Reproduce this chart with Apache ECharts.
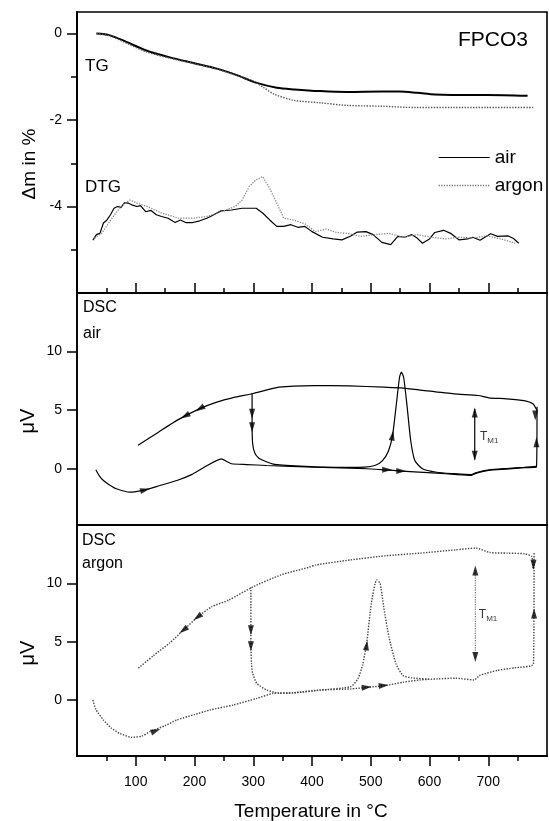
<!DOCTYPE html>
<html><head><meta charset="utf-8">
<script src="https://cdn.jsdelivr.net/npm/echarts@6/dist/echarts.min.js"></script>
<style>html,body{margin:0;padding:0;background:#fff}#c{width:549px;height:821px}</style>
</head><body><div id="c"></div>
<script>
// ---- tick values ----
const xMajor = [100, 200, 300, 400, 500, 600, 700];
const xMinor = [50, 150, 250, 350, 450, 550, 650, 750];
const yTgMajor = [-4, -2, 0];
const yTgMinor = [-5, -3, -1];
const yDscMajor = [0, 5, 10];

// ---- TG / DTG (Δm in %) ----
const tgAir = [[33,0],[56,-0.04],[84,-0.19],[118,-0.39],[158,-0.55],[198,-0.68],[238,-0.81],[272,-0.96],[306,-1.14],[340,-1.25],[370,-1.29],[414,-1.33],[460,-1.35],[519,-1.34],[549,-1.34],[579,-1.37],[609,-1.41],[638,-1.42],[698,-1.42],[767,-1.44]];
const tgArgon = [[33,0],[56,-0.05],[84,-0.22],[118,-0.42],[158,-0.57],[198,-0.69],[238,-0.82],[272,-0.97],[300,-1.1],[318,-1.25],[334,-1.39],[368,-1.54],[414,-1.6],[460,-1.66],[519,-1.68],[579,-1.71],[638,-1.71],[698,-1.71],[779,-1.71]];
const dtgAir = [[27,-4.78],[33,-4.65],[39,-4.62],[45,-4.38],[51,-4.31],[57,-4.19],[63,-4.04],[69,-4.0],[75,-4.02],[81,-3.91],[87,-3.92],[93,-3.96],[102,-4.0],[108,-3.98],[117,-4.12],[126,-4.09],[135,-4.19],[144,-4.23],[155,-4.27],[167,-4.37],[176,-4.31],[185,-4.37],[197,-4.37],[209,-4.33],[221,-4.27],[233,-4.19],[245,-4.10],[263,-4.08],[281,-4.04],[305,-4.04],[316,-4.15],[328,-4.31],[340,-4.46],[352,-4.46],[364,-4.42],[376,-4.48],[388,-4.46],[400,-4.58],[418,-4.71],[436,-4.75],[451,-4.77],[466,-4.68],[477,-4.59],[492,-4.58],[504,-4.65],[519,-4.83],[534,-4.88],[546,-4.69],[558,-4.71],[570,-4.65],[579,-4.73],[588,-4.85],[600,-4.75],[609,-4.6],[624,-4.55],[636,-4.62],[650,-4.77],[665,-4.75],[674,-4.71],[686,-4.78],[704,-4.63],[716,-4.69],[734,-4.68],[743,-4.74],[752,-4.85]];
const dtgArgon = [[30,-4.73],[42,-4.62],[54,-4.38],[66,-4.15],[78,-3.96],[90,-3.85],[102,-3.92],[120,-4.0],[144,-4.15],[173,-4.27],[197,-4.27],[221,-4.23],[245,-4.12],[269,-4.0],[281,-3.85],[293,-3.54],[305,-3.38],[316,-3.31],[328,-3.58],[340,-3.92],[352,-4.27],[370,-4.32],[388,-4.40],[406,-4.58],[424,-4.52],[442,-4.6],[460,-4.62],[483,-4.69],[507,-4.65],[531,-4.62],[555,-4.71],[579,-4.65],[603,-4.71],[627,-4.75],[650,-4.71],[674,-4.73],[698,-4.68],[722,-4.75],[746,-4.85]];

// ---- DSC air (μV) ----
const dscAirHeat1 = [[32,-0.08],[38,-0.6],[45,-1.0],[56,-1.4],[67,-1.71],[90,-2.0],[116,-1.8],[140,-1.45],[170,-1.0],[195,-0.5],[215,0.09],[246,0.85],[255,0.62],[263,0.43],[289,0.36],[323,0.28],[404,0.14],[463,0.06],[493,0],[523,-0.09],[552,-0.2],[582,-0.28],[612,-0.37],[642,-0.48],[671,-0.57],[680,-0.37],[701,-0.14],[731,-0.03],[761,0.09],[782,0.14],[783,5.3]];
const dscAirHeat2 = [[298,6.42],[298,4.0],[299,2.14],[303,1.3],[311,0.85],[334,0.4],[380,0.22],[440,0.12],[490,0.14],[508,0.3],[520,0.7],[530,1.5],[537,2.8],[543,5.26],[549,7.81],[552,8.24],[556,7.81],[562,5.26],[568,2.41],[575,0.7],[588,0.0],[612,-0.3],[642,-0.42],[671,-0.5],[680,-0.32],[701,-0.1],[731,0.02],[761,0.12],[782,0.2]];
const dscAirCool = [[783,4.97],[776,5.54],[761,5.82],[731,5.97],[701,6.05],[683,6.25],[642,6.39],[582,6.73],[552,6.9],[523,6.96],[463,7.07],[404,7.1],[344,6.96],[300,6.42],[266,6.07],[238,5.69],[209,5.13],[170,4.13],[138,3.1],[104,2.0]];
const dscAirTm1 = [[677,0.8],[677,5.1]];
// arrows: [T, value, rotation in degrees]
const dscAirArrows = [[116,-1.8,-76],[209,5.13,120],[184,4.5,120],[298,4.69,180],[298,3.55,180],[537,2.84,-9],[528,-0.09,-90],[552,-0.2,-90],[780,4.55,180],[782,2.27,0],[677,4.8,0],[677,1.1,180]];

// ---- DSC argon (μV) ----
const dscArHeat1 = [[27,0],[32,-0.8],[45,-1.71],[58,-2.4],[73,-2.86],[93,-3.2],[110,-3.1],[124,-2.71],[150,-2.2],[170,-1.71],[200,-1.25],[226,-0.86],[266,-0.43],[306,0.14],[334,0.57],[368,0.63],[414,0.86],[466,0.95],[496,1.09],[525,1.24],[555,1.52],[584,1.72],[614,1.81],[644,1.87],[676,1.72],[685,2.1],[715,2.53],[745,2.76],[777,3.1],[778,12.6]];
const dscArHeat2 = [[296,9.66],[296,5.0],[297,3.1],[299,2.29],[306,1.43],[323,0.86],[345,0.57],[368,0.6],[414,0.84],[466,1.15],[478,1.8],[486,3.0],[493,4.83],[501,8.28],[510,10.29],[516,10.0],[522,7.99],[531,5.4],[543,3.1],[555,2.1],[570,1.9],[600,1.78]];
const dscArCool = [[776,11.3],[774,12.3],[762,12.53],[733,12.59],[703,12.64],[679,13.02],[644,12.87],[584,12.59],[525,12.36],[466,12.01],[407,11.58],[395,11.38],[347,10.72],[300,9.71],[258,8.56],[229,7.99],[205,7.1],[181,5.98],[158,4.9],[130,3.8],[104,2.71]];
const dscArTm1 = [[678,3.6],[678,11.2]];
const dscArArrows = [[134,-2.64,-69],[205,7.1,127],[181,5.98,127],[296,5.98,180],[296,4.6,180],[493,4.68,-8],[493,1.09,-85],[522,1.24,-85],[778,7.41,0],[777,11.6,180],[678,11.09,0],[678,3.68,180]];

const FONT = 'Liberation Sans, Arial, Helvetica, sans-serif';
const chart = echarts.init(document.getElementById('c'), null, {renderer: 'canvas'});

const grids = [
  {left: 77, right: 2, top: 12, height: 281},
  {left: 77, right: 2, top: 293, height: 232},
  {left: 77, right: 2, top: 525, height: 231}
].map(g => Object.assign(g, {show: true, borderColor: '#000', borderWidth: 1.6, backgroundColor: 'transparent'}));

const axLine = {show: true, onZero: false, lineStyle: {color: '#000', width: 1.6}};
function xAx(grid, opts) {
  return Object.assign({type: 'value', gridIndex: grid, min: 0, max: 800, position: 'bottom',
    splitLine: {show: false}, axisLine: axLine, axisLabel: {show: false}, axisTick: {show: false}}, opts);
}
const xAxes = [
  xAx(0, {axisTick: {show: true, inside: true, length: 10, customValues: xMajor, lineStyle: {color: '#000', width: 1.5}}}),
  xAx(0, {axisTick: {show: true, inside: true, length: 5, customValues: xMinor, lineStyle: {color: '#000', width: 1.5}}}),
  xAx(1, {}),
  xAx(2, {axisTick: {show: true, inside: false, length: 10, customValues: xMajor, lineStyle: {color: '#000', width: 1.5}},
    axisLabel: {show: true, customValues: xMajor, margin: 19, fontSize: 14, color: '#000', fontFamily: FONT}}),
  xAx(2, {axisTick: {show: true, inside: false, length: 5, customValues: xMinor, lineStyle: {color: '#000', width: 1.5}}})
];
function yAx(grid, min, max, opts) {
  return Object.assign({type: 'value', gridIndex: grid, min: min, max: max, position: 'left',
    splitLine: {show: false}, axisLine: axLine, axisLabel: {show: false}, axisTick: {show: false}}, opts);
}
const yLab = {show: true, margin: 15, fontSize: 14, color: '#000', fontFamily: FONT};
const yAxes = [
  yAx(0, -6, 0.5, {axisTick: {show: true, length: 10, customValues: yTgMajor, lineStyle: {color: '#000', width: 1.5}},
    axisLabel: Object.assign({customValues: yTgMajor}, yLab)}),
  yAx(0, -6, 0.5, {axisTick: {show: true, length: 6, customValues: yTgMinor, lineStyle: {color: '#000', width: 1.5}}}),
  yAx(1, -4.8, 15, {axisTick: {show: true, length: 10, customValues: yDscMajor, lineStyle: {color: '#000', width: 1.5}},
    axisLabel: Object.assign({customValues: yDscMajor}, yLab)}),
  yAx(2, -4.8, 15, {axisTick: {show: true, length: 10, customValues: yDscMajor, lineStyle: {color: '#000', width: 1.5}},
    axisLabel: Object.assign({customValues: yDscMajor}, yLab)})
];

const AIR = {color: '#000', width: 1.2, type: 'solid'};
const ARGON = {color: '#444', width: 1.4, type: 'dotted'};
function line(name, data, xi, yi, style, smooth) {
  return {type: 'line', name: name, data: data, xAxisIndex: xi, yAxisIndex: yi, symbol: 'none',
    itemStyle: {color: style.color, opacity: 0},
    lineStyle: style, smooth: smooth, animation: false, silent: true, z: 3};
}
function arrows(data, xi, yi) {
  return {type: 'scatter', xAxisIndex: xi, yAxisIndex: yi, symbol: 'triangle', symbolSize: [6, 10],
    itemStyle: {color: '#000'}, animation: false, silent: true, z: 4,
    data: data.map(a => ({value: [a[0], a[1]], symbolRotate: a[2]}))};
}
function tmLabel(pos, xi, yi) {
  return {type: 'scatter', xAxisIndex: xi, yAxisIndex: yi, symbolSize: 0, animation: false, silent: true,
    data: [pos], label: {show: true, position: 'right', distance: 0,
      formatter: '{a|T}{b|M1}', rich: {a: {fontSize: 12, fontFamily: FONT, color: '#000', lineHeight: 16, verticalAlign: 'middle'},
        b: {fontSize: 8, fontFamily: FONT, color: '#000', lineHeight: 16, verticalAlign: 'bottom', padding: [6, 0, 0, 0]}}}};
}

const series = [
  line('air', tgAir, 0, 0, {color: '#000', width: 2, type: 'solid'}, 0.3),
  line('argon', tgArgon, 0, 0, {color: '#555', width: 1.4, type: 'dotted'}, 0.3),
  line('air', dtgAir, 0, 0, AIR, false),
  line('argon', dtgArgon, 0, 0, {color: '#888', width: 1.3, type: 'dotted'}, false),
  line('air', dscAirHeat1, 2, 2, AIR, 0.2),
  line('air', dscAirHeat2, 2, 2, AIR, 0.2),
  line('air', dscAirCool, 2, 2, AIR, 0.2),
  line('air', dscAirTm1, 2, 2, AIR, false),
  arrows(dscAirArrows, 2, 2),
  tmLabel([686, 2.7], 2, 2),
  line('argon', dscArHeat1, 3, 3, ARGON, 0.2),
  line('argon', dscArHeat2, 3, 3, ARGON, 0.2),
  line('argon', dscArCool, 3, 3, ARGON, 0.2),
  line('argon', dscArTm1, 3, 3, {color: '#777', width: 1.2, type: 'dotted'}, false),
  arrows(dscArArrows, 3, 3),
  tmLabel([684, 7.3], 3, 3)
];

function txt(x, y, text, size, extra) {
  return Object.assign({type: 'text', x: x, y: y, silent: true,
    style: {text: text, fill: '#000', font: size + 'px ' + FONT, textVerticalAlign: 'middle', textAlign: 'left'}}, extra || {});
}
const graphics = [
  txt(458, 40, 'FPCO3', 21),
  txt(85, 66, 'TG', 17),
  txt(85, 187, 'DTG', 17),
  txt(83, 308, 'DSC', 16),
  txt(83, 334, 'air', 16),
  txt(82, 541, 'DSC', 16),
  txt(82, 564, 'argon', 16),
  {type: 'text', x: 30, y: 164, rotation: Math.PI / 2, silent: true,
    style: {text: 'Δm in %', fill: '#000', font: '19px ' + FONT, textAlign: 'center', textVerticalAlign: 'middle'}},
  {type: 'text', x: 28, y: 421, rotation: Math.PI / 2, silent: true,
    style: {text: 'μV', fill: '#000', font: '20px ' + FONT, textAlign: 'center', textVerticalAlign: 'middle'}},
  {type: 'text', x: 28, y: 653, rotation: Math.PI / 2, silent: true,
    style: {text: 'μV', fill: '#000', font: '20px ' + FONT, textAlign: 'center', textVerticalAlign: 'middle'}},
  {type: 'text', x: 311, y: 812, silent: true,
    style: {text: 'Temperature in °C', fill: '#000', font: '19px ' + FONT, textAlign: 'center', textVerticalAlign: 'middle'}}
];

chart.setOption({
  animation: false,
  backgroundColor: '#fff',
  grid: grids,
  xAxis: xAxes,
  yAxis: yAxes,
  legend: {
    orient: 'vertical', left: 433, top: 143, itemWidth: 51, itemHeight: 12, itemGap: 9,
    selectedMode: false,
    textStyle: {fontSize: 19, lineHeight: 18, color: '#000', fontFamily: FONT},
    data: [
      {name: 'air', itemStyle: {opacity: 0}, lineStyle: {color: '#000', width: 1.2, type: 'solid'}},
      {name: 'argon', itemStyle: {opacity: 0}, lineStyle: {color: '#777', width: 1.3, type: 'dotted'}}
    ]
  },
  graphic: graphics,
  series: series
});
</script></body></html>
